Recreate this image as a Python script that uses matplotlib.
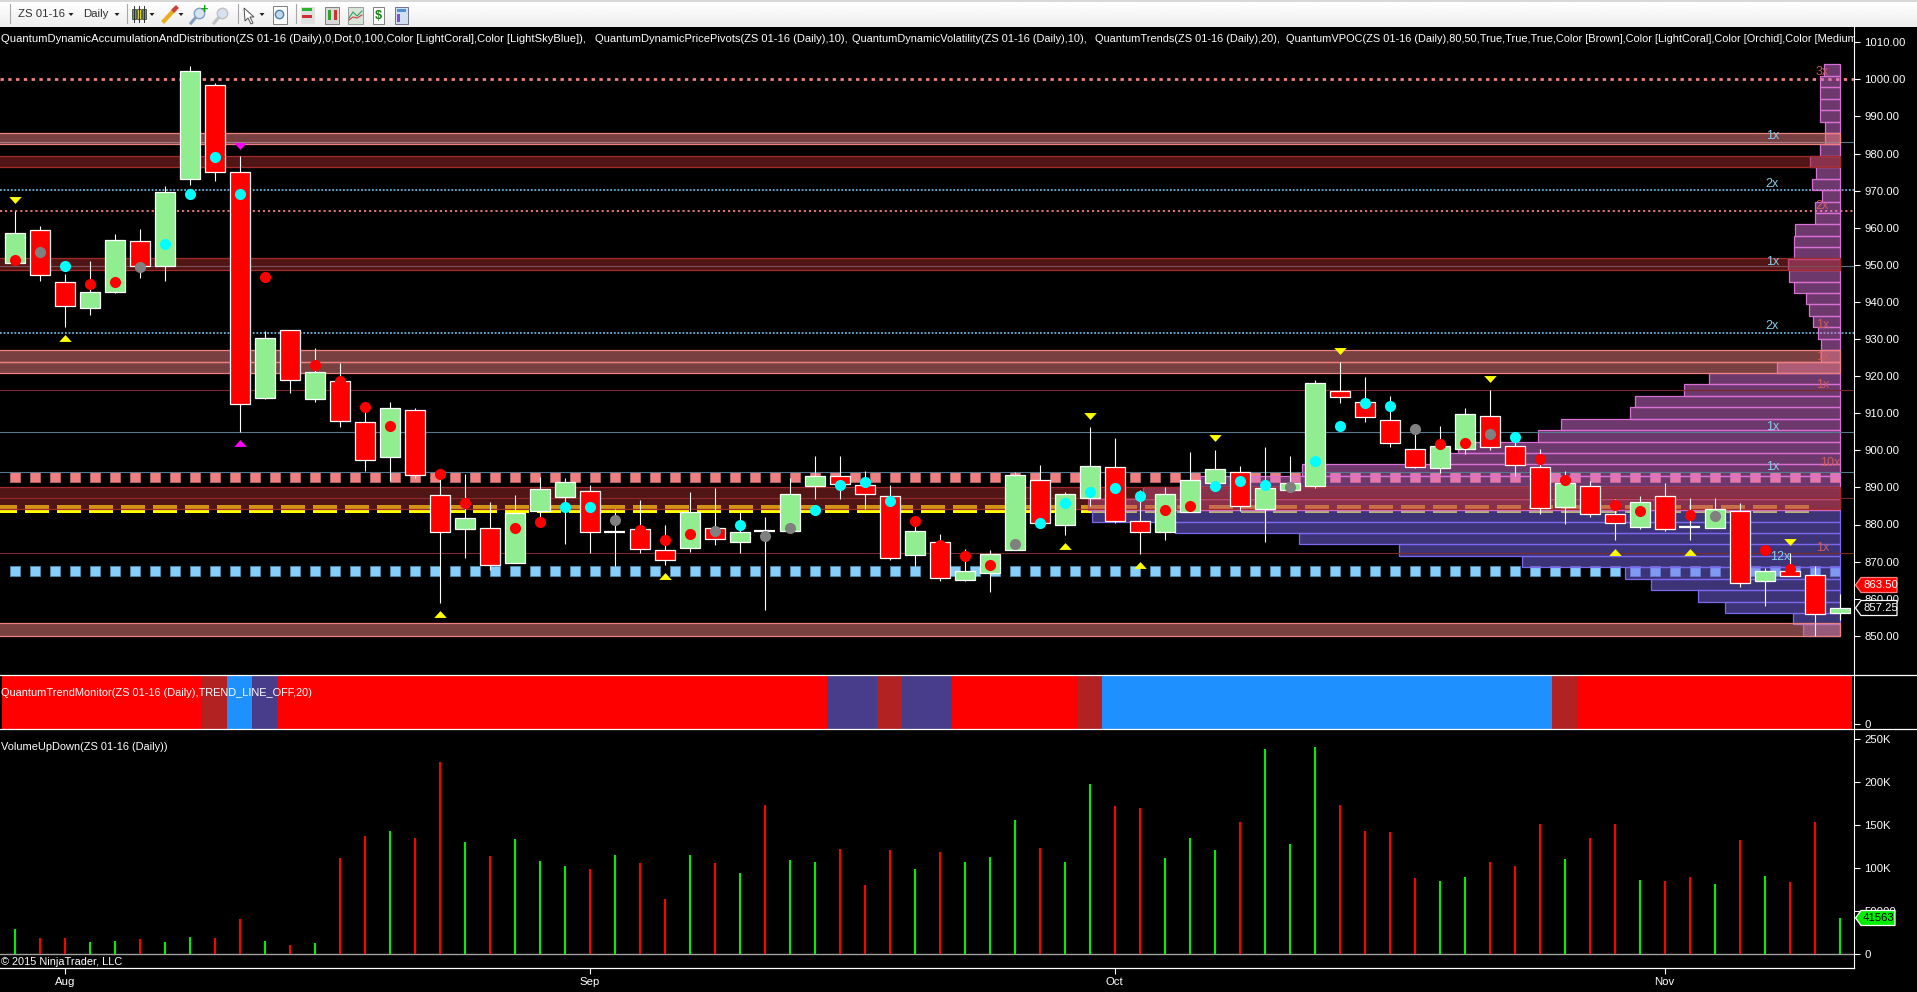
import numpy as np
import matplotlib
matplotlib.use('Agg')
import matplotlib.pyplot as plt
from matplotlib.patches import Rectangle, Polygon

plt.rcParams['font.family'] = ['Liberation Sans', 'DejaVu Sans']

W, H = 1917, 992

# candles, one entry per daily bar
opens = [950.4, 959.3, 945.3, 938.3, 942.8, 956.3, 949.8, 973.0, 998.4, 974.9,
         914.2, 932.3, 913.9, 918.6, 907.5, 898.3, 910.8, 887.9, 878.9, 879.0,
         869.7, 883.7, 887.5, 888.9, 878.1, 878.7, 873.0, 873.8, 879.0, 875.4,
         878.25, 878.3, 890.5, 893.0, 890.6, 887.6, 871.9, 875.2, 865.1, 866.8,
         873.0, 891.9, 880.0, 887.2, 895.4, 880.9, 877.9, 883.3, 891.1, 894.1,
         884.3, 889.4, 890.3, 915.9, 912.9, 908.1, 900.3, 895.3, 900.4, 909.2,
         901.1, 895.4, 884.8, 890.3, 882.8, 879.4, 887.6, 879.4, 879.1, 883.6,
         864.9, 867.6, 866.3, 856.2]
closes = [958.5, 947.2, 938.8, 942.6, 956.6, 949.8, 969.5, 1002.2, 975.0, 912.4,
          930.2, 919.0, 921.0, 908.0, 897.3, 911.3, 893.4, 877.9, 881.7, 869.0,
          883.0, 889.5, 891.4, 877.9, 878.1, 873.3, 870.3, 883.3, 876.2, 877.9,
          878.25, 888.1, 893.0, 891.0, 888.3, 871.1, 878.2, 865.7, 867.6, 872.0,
          893.3, 880.5, 888.1, 895.9, 881.0, 878.1, 888.1, 891.9, 894.9, 885.1,
          889.8, 891.3, 918.1, 914.5, 909.1, 902.1, 895.6, 901.1, 909.7, 901.0,
          896.1, 884.5, 891.1, 882.9, 880.3, 886.0, 878.9, 879.4, 884.1, 864.1,
          867.4, 866.2, 855.8, 857.4]
highs = [964.6, 960.5, 947.5, 951.0, 958.3, 959.6, 971.2, 1003.6, 998.9, 979.2,
         932.2, 932.4, 927.5, 923.5, 910.9, 913.0, 911.3, 893.8, 893.6, 886.0,
         888.0, 892.8, 892.5, 890.6, 884.1, 886.6, 879.9, 888.8, 889.8, 883.3,
         882.0, 892.4, 898.5, 898.5, 894.4, 890.6, 882.1, 877.4, 873.4, 873.1,
         894.1, 896.0, 888.7, 906.3, 903.3, 889.3, 890.1, 899.5, 900.1, 895.8,
         900.9, 898.5, 919.0, 923.8, 919.8, 914.6, 905.8, 906.6, 911.4, 916.3,
         902.8, 900.3, 894.4, 891.7, 886.9, 887.7, 891.2, 887.1, 887.1, 885.8,
         868.4, 872.2, 868.8, 861.4]
lows = [950.4, 945.5, 933.3, 936.6, 942.3, 946.5, 945.7, 971.6, 972.7, 904.8,
        913.9, 915.5, 913.1, 906.4, 894.5, 891.7, 892.5, 858.9, 871.1, 867.7,
        869.7, 881.2, 874.8, 872.4, 868.8, 872.2, 869.1, 872.7, 874.5, 872.4,
        857.0, 878.3, 886.9, 886.9, 884.2, 870.3, 868.8, 864.9, 864.9, 861.9,
        873.0, 880.5, 877.2, 885.0, 880.5, 872.1, 875.8, 883.3, 891.1, 883.7,
        875.3, 889.4, 889.9, 912.8, 907.6, 901.0, 895.2, 893.8, 899.0, 900.1,
        893.2, 882.7, 880.1, 882.1, 875.7, 878.9, 878.3, 875.7, 879.1, 863.2,
        858.0, 866.0, 850.0, 854.3]

# dots on the bars
red_dot_bars = [0, 3, 4, 10, 12, 13, 14, 15, 17, 18, 20, 21, 25, 26, 27, 36, 37, 38, 39,
                46, 47, 57, 58, 61, 62, 64, 65, 67, 70, 71]
red_dot_prices = [951.3, 944.8, 945.4, 946.8, 923.0, 918.8, 911.7, 906.6, 893.6, 885.8,
                  879.0, 880.7, 878.5, 875.8, 877.4, 881.0, 874.5, 871.5, 869.1,
                  883.9, 885.0, 901.7, 902.0, 897.6, 892.0, 885.3, 883.6, 882.6, 873.1, 868.1]
cyan_dot_bars = [2, 6, 7, 8, 9, 22, 23, 29, 32, 33, 34, 35, 41, 42, 43, 44, 45, 48, 49, 50,
                 52, 53, 54, 55, 60]
cyan_dot_prices = [949.7, 955.6, 969.1, 979.1, 969.1, 884.7, 884.7, 879.9, 883.9, 890.6,
                   891.5, 886.3, 880.4, 885.8, 888.8, 889.8, 887.7, 890.4, 891.7, 890.6,
                   897.1, 906.6, 912.8, 912.0, 903.6]
gray_dot_bars = [1, 5, 24, 28, 30, 31, 40, 51, 56, 59, 68]
gray_dot_prices = [953.5, 949.5, 881.2, 878.3, 876.9, 879.1, 874.8, 890.1, 905.7, 904.4, 882.3]

# triangles
yellow_down_bars = [0, 43, 48, 53, 59, 71]
yellow_down_prices = [967.6, 909.3, 903.2, 926.9, 919.3, 875.4]
yellow_up_bars = [2, 17, 26, 42, 45, 64, 67]
yellow_up_prices = [930.2, 855.8, 866.1, 874.1, 869.0, 872.5, 872.5]
magenta_down = (9, 982.1)
magenta_up = (9, 901.9)

# horizontal levels
coral_zone_tops = [985.4, 926.95, 923.7, 853.4]
coral_zone_bots = [982.5, 923.9, 920.9, 850.0]
brown_zone_tops = [979.2, 951.7, 890.0]
brown_zone_bots = [976.3, 948.5, 884.1]
brown_lines = [916.2, 887.1, 872.2]
slate_lines = [983.2, 949.6, 904.8, 894.1]
coral_dotted = [1000.0, 964.4]
blue_dotted = [970.1, 931.5]
coral_square_level = 892.7
blue_square_level = 867.4
vpoc_low, vpoc_high = 883.0, 885.2

# volume profile, 50 bins from 850 to 1004, length in bars * 61.5
profile_lengths = [92, 117, 284, 350, 466, 530, 783, 1087, 1332, 1638,
                   1840, 1851, 1715, 1575, 1325, 1010, 940, 744, 688, 518,
                   506, 385, 323, 156, 47, 47, 55, 67, 77, 84,
                   114, 127, 129, 114, 114, 111, 62, 62, 45, 70,
                   60, 75, 50, 37, 37, 50, 50, 50, 50, 40]
profile_blue_bins = 11

mult_x = [72.3, 70.3, 70.3, 72.3, 70.3, 70.3, 72.3, 72.3, 72.3, 70.3, 70.3, 72.6, 72.3, 70.6]
mult_y = [1002.1, 984.7, 971.8, 965.9, 950.8, 933.5, 933.8, 925.1, 917.6, 906.2, 895.4, 896.5, 873.6, 871.2]
mult_text = ['3x', '1x', '2x', '2x', '1x', '2x', '1x', '1x', '1x', '1x', '1x', '10x', '1x', '12x']
mult_kind = ['c', 's', 's', 'c', 's', 's', 'c', 'c', 'c', 's', 's', 'c', 'c', 's']

# trend monitor segments
trend_lengths = [8, 1, 1, 1, 22, 2, 1, 2, 5, 1, 18, 1, 11]
trend_colors = ['#FF0000', '#B22222', '#1E90FF', '#483D8B', '#FF0000', '#483D8B', '#B22222',
                '#483D8B', '#FF0000', '#B22222', '#1E90FF', '#B22222', '#FF0000']

# volume in thousands, u = up bar, d = down bar
volumes = [29.4, 19, 19, 14.3, 15.5, 17.8, 14.3, 20.1, 19, 41,
           15.5, 10.8, 13.2, 111.8, 137.4, 143.2, 135, 223.3, 130.4, 114.2,
           133.9, 108.4, 102.6, 99, 115.3, 106, 64.2, 115.3, 106, 94.4,
           173.4, 109.5, 107.2, 122.3, 80.5, 121.1, 99.1, 118.8, 107.2, 113,
           156, 123.5, 107.2, 197.8, 172.2, 169.9, 111.8, 135, 121.1, 153.6,
           238.4, 128.1, 240.7, 173.4, 143.2, 142, 88.6, 85.1, 89.8, 107.2,
           102.6, 151.3, 110.7, 135, 151.3, 86.3, 85.1, 89.8, 81.7, 132.7,
           90.9, 84, 153.6, 41.563]
vol_dir = 'u,d,d,u,u,d,u,u,d,d,u,d,u,d,d,u,d,d,u,d,u,u,u,d,u,d,d,u,d,u,d,u,u,d,d,d,u,d,u,u,u,d,u,u,d,d,u,u,u,d,u,u,u,d,d,d,d,u,u,d,d,d,u,d,d,u,d,d,u,d,u,d,d,u'.split(',')

month_bars = [2, 23, 44, 66]
month_labels = ['Aug', 'Sep', 'Oct', 'Nov']

header_x = [1, 595, 852, 1095, 1286]
header_sizes = [8.15, 8.0, 7.9, 7.9, 7.9]
header_parts = ['QuantumDynamicAccumulationAndDistribution(ZS 01-16 (Daily),0,Dot,0,100,Color [LightCoral],Color [LightSkyBlue]),',
                'QuantumDynamicPricePivots(ZS 01-16 (Daily),10),',
                'QuantumDynamicVolatility(ZS 01-16 (Daily),10),',
                'QuantumTrends(ZS 01-16 (Daily),20),',
                'QuantumVPOC(ZS 01-16 (Daily),80,50,True,True,True,Color [Brown],Color [LightCoral],Color [Orchid],Color [MediumSlateBlue])']

BAR_PX = 25.0
X0 = 14.7
RIGHT = 1854.4
xlim = ((0 - X0) / BAR_PX, (RIGHT - X0) / BAR_PX)
bars = np.arange(len(opens))


def px_axes(fig, left, top, right, bottom, **kw):
    return fig.add_axes([left / W, 1 - bottom / H, (right - left) / W, (bottom - top) / H], **kw)


def right_axis(ax):
    ax.set_facecolor('black')
    for s in ['top', 'left', 'bottom']:
        ax.spines[s].set_visible(False)
    ax.spines['right'].set_color('white')
    ax.spines['right'].set_linewidth(0.8)
    ax.yaxis.tick_right()
    ax.tick_params(axis='y', colors='white', length=4, width=0.8, labelsize=8.2, pad=3)
    ax.set_xlim(xlim)
    ax.set_xticks([])


fig = plt.figure(figsize=(W / 100, H / 100), dpi=100, facecolor='black')

# price pane
ax = px_axes(fig, 0, 27, RIGHT, 675)
right_axis(ax)
ax.set_ylim(1000 - (675 - 79.3) / 3.71, 1000 + (79.3 - 27) / 3.71)
ax.set_yticks(range(850, 1011, 10))
ax.set_yticklabels(['%.2f' % p for p in range(850, 1011, 10)])

prof_right = 73.03

# square dots and the yellow dashes sit under the profile
sq_x = np.arange(0.012, xlim[1], 0.8)
ax.plot(sq_x, [coral_square_level] * len(sq_x), ls='none', marker='s', ms=7.4, mfc='#F08080',
        mec='#B06060', mew=0.7, zorder=1)
ax.plot(sq_x, [blue_square_level] * len(sq_x), ls='none', marker='s', ms=7.4, mfc='#87CEFA',
        mec='#4F86A8', mew=0.7, zorder=1)
dash_x = np.arange(-0.888, prof_right - 0.96, 1.28)
ax.broken_barh([(d, 0.96) for d in dash_x], (vpoc_low, vpoc_high - vpoc_low),
               facecolors='#FFFF00', zorder=1)

for p in coral_dotted:
    ax.axhline(p, color='#F08080', lw=2.0 if p == 1000.0 else 1.3, ls=(0, (1.2, 1.6)), zorder=1)
for p in blue_dotted:
    ax.axhline(p, color='#6DB4DE', lw=1.3, ls=(0, (1, 1)), zorder=1)
for p in slate_lines:
    ax.axhline(p, color='#56788F', lw=0.8, zorder=3)
for p in brown_lines:
    ax.axhline(p, color='#7E2A2A', lw=0.8, zorder=3)

# volume profile
edges = np.linspace(850, 1004, len(profile_lengths) + 1)
lengths = np.array(profile_lengths) / 61.5
for k in range(len(lengths)):
    if k < profile_blue_bins:
        fc, ec = (123 / 255, 104 / 255, 238 / 255, 0.5), '#7B68EE'
    else:
        fc, ec = (218 / 255, 112 / 255, 214 / 255, 0.5), '#DA70D6'
    ax.add_patch(Rectangle((prof_right - lengths[k], edges[k]), lengths[k], edges[k + 1] - edges[k],
                           facecolor=fc, edgecolor=ec, lw=0.9, zorder=2))

# zones
zone_left = xlim[0] - 1
for t, b in zip(coral_zone_tops, coral_zone_bots):
    ax.add_patch(Rectangle((zone_left, b), prof_right - zone_left, t - b, facecolor=(240 / 255, 128 / 255, 128 / 255, 0.5),
                           edgecolor='#F08080', lw=0.9, zorder=3))
for t, b in zip(brown_zone_tops, brown_zone_bots):
    ax.add_patch(Rectangle((zone_left, b), prof_right - zone_left, t - b, facecolor=(165 / 255, 42 / 255, 42 / 255, 0.5),
                           edgecolor='#A52A2A', lw=0.9, zorder=3))

# candles
ax.vlines(bars, lows, highs, color='white', lw=0.8, zorder=4)
for i in bars:
    o, c = opens[i], closes[i]
    if o == c:
        ax.hlines(o, i - 0.41, i + 0.41, color='white', lw=1.6, zorder=5)
    else:
        ax.add_patch(Rectangle((i - 0.4, min(o, c)), 0.8, abs(c - o), facecolor='#90EE90' if c > o else '#FF0000',
                               edgecolor='white', lw=0.9, zorder=5))

# dots
for bx, py, col in [(red_dot_bars, red_dot_prices, '#FF0000'), (cyan_dot_bars, cyan_dot_prices, '#00FFFF'),
                    (gray_dot_bars, gray_dot_prices, '#808080')]:
    ax.plot(bx, py, ls='none', marker='o', ms=8, mfc=col, mec=col, mew=0, zorder=6)

# triangles
tri_down = [(-1, 0.55), (1, 0.55), (0, -0.55)]
tri_up = [(-1, -0.55), (1, -0.55), (0, 0.55)]
ax.plot(yellow_down_bars, yellow_down_prices, ls='none', marker=tri_down, ms=9, mfc='#FFFF00', mec='#FFFF00', mew=0, zorder=6)
ax.plot(yellow_up_bars, yellow_up_prices, ls='none', marker=tri_up, ms=9, mfc='#FFFF00', mec='#FFFF00', mew=0, zorder=6)
ax.plot([magenta_down[0]], [magenta_down[1]], ls='none', marker=tri_down, ms=9, mfc='#FF00FF', mew=0, zorder=6)
ax.plot([magenta_up[0]], [magenta_up[1]], ls='none', marker=tri_up, ms=9, mfc='#FF00FF', mew=0, zorder=6)

for mx, my, mt, mk in zip(mult_x, mult_y, mult_text, mult_kind):
    ax.text(mx, my, mt, color='#CD5C5C' if mk == 'c' else '#87CEEB', fontsize=9, ha='center', va='center', zorder=7)

# trend monitor pane
ax2 = px_axes(fig, 0, 675.7, RIGHT, 729)
right_axis(ax2)
ax2.set_ylim(-0.104, 1)
ax2.set_yticks([0])
ax2.set_yticklabels(['0'])
start = -0.5
for n, col in zip(trend_lengths, trend_colors):
    ax2.bar(start, 1.104, width=n, bottom=-0.104, align='edge', color=col, lw=0)
    start += n

# volume pane
ax3 = px_axes(fig, 0, 729.5, RIGHT, 968.3)
right_axis(ax3)
ax3.set_ylim(-16.26, 261)
ax3.set_yticks([0, 50, 100, 150, 200, 250])
ax3.set_yticklabels(['0', '50000', '100K', '150K', '200K', '250K'])
vol_cols = ['#00EE00' if d == 'u' else '#FF0000' for d in vol_dir]
ax3.vlines(bars, 0, volumes, colors=vol_cols, lw=1.5)
ax3.axhline(0, color='#A0A0A0', lw=1, zorder=0)
ax3.set_xticks(month_bars)
ax3.set_xticklabels(month_labels)
ax3.tick_params(axis='x', colors='white', length=4, width=0.8, labelsize=8.2, pad=2)

# overlay in pixel coordinates: toolbar, captions, frame lines, price tags
ov = fig.add_axes([0, 0, 1, 1], facecolor='none')
ov.set_xlim(0, W)
ov.set_ylim(H, 0)
ov.axis('off')

ov.imshow(np.linspace(1.0, 0.93, 24).reshape(-1, 1), cmap='gray', vmin=0, vmax=1, extent=(0, W, 27, 2), aspect='auto')
ov.add_patch(Rectangle((0, 0), W, 2, fc='#D8D8D8', lw=0))
ov.set_xlim(0, W)
ov.set_ylim(H, 0)
for sx in [10, 127, 237.5, 295.5]:
    ov.plot([sx, sx], [4, 23], color='#A8A8A8', lw=0.8)
ov.text(18, 14, 'ZS 01-16', color='#303030', fontsize=8.2, va='center')
ov.text(83, 14, 'Daily', color='#303030', fontsize=8.2, va='center')
for ax_ in [71, 117, 152, 181, 262]:
    ov.add_patch(Polygon([(ax_ - 2.5, 13), (ax_ + 2.5, 13), (ax_, 16)], fc='#202020', lw=0))
# toolbar icons
for cx, col in [(134, '#3CB43C'), (139, '#D8D020'), (144, '#3CB43C')]:
    ov.plot([cx, cx], [6, 22], color='#303030', lw=0.7)
    ov.add_patch(Rectangle((cx - 1.7, 9), 3.4, 10, fc=col, ec='#303030', lw=0.5))
ov.plot([164, 175], [21, 9], color='#E8B020', lw=3)
ov.plot([174, 176], [10, 8], color='#D04040', lw=3)
for cx, col in [(197, '#7FA0C0'), (220, '#C0C0C0')]:
    ov.plot([cx - 6, cx], [23, 16], color=col, lw=2.2)
    ov.plot([cx + 2], [13], marker='o', ms=7.5, mfc='#D5E3F0', mec=col, mew=1)
ov.text(204, 10, '+', color='#10A010', fontsize=9, fontweight='bold', ha='center', va='center')
ov.add_patch(Polygon([(244, 8), (254, 17), (250, 17), (253, 23), (251, 24), (248, 18), (245, 21)], fc='white', ec='#505050', lw=0.7))
ov.add_patch(Rectangle((273, 6), 14, 18, fc='white', ec='#808080', lw=0.7))
ov.plot([279], [14], marker='o', ms=6, mfc='#C0D8F0', mec='#5080B0', mew=1)
ov.add_patch(Rectangle((301, 7), 14, 17, fc='#E0E0E0', lw=0))
ov.add_patch(Rectangle((302, 8), 10, 3, fc='#30B030', lw=0))
ov.add_patch(Rectangle((302, 15), 10, 3, fc='#D03030', lw=0))
ov.add_patch(Rectangle((325, 7), 14, 17, fc='#D8D8D8', ec='#707070', lw=0.6))
for cx, col in [(329, '#30A030'), (335, '#D03030')]:
    ov.add_patch(Rectangle((cx - 1.5, 10), 3, 10, fc=col, lw=0))
ov.add_patch(Rectangle((348, 7), 15, 17, fc='#D8E4D8', ec='#909090', lw=0.6))
ov.plot([349, 353, 357, 362], [18, 12, 16, 11], color='#30A060', lw=0.8)
ov.plot([349, 353, 357, 362], [20, 17, 18, 15], color='#D04040', lw=0.8)
ov.add_patch(Rectangle((373, 7), 11, 17, fc='white', ec='#808080', lw=0.7))
ov.text(378.5, 16, '$', color='#108010', fontsize=9, fontweight='bold', ha='center', va='center')
ov.add_patch(Rectangle((395, 7), 13, 17, fc='#D0E0F0', ec='#707090', lw=0.7))
ov.add_patch(Rectangle((397, 9), 9, 3, fc='#5090D0', lw=0))
ov.add_patch(Rectangle((397, 14), 3, 8, fc='#8050D0', lw=0))

# captions, the last one is cut off at the axis line
clip_rect = Rectangle((0, 27), RIGHT, 30, transform=ov.transData)
for hx, part, hs in zip(header_x, header_parts, header_sizes):
    t = ov.text(hx, 39, part, color='white', fontsize=hs, va='center', ha='left')
    t.set_clip_on(True)
    t.set_clip_path(clip_rect)
ov.text(1, 693, 'QuantumTrendMonitor(ZS 01-16 (Daily),TREND_LINE_OFF,20)', color='white', fontsize=7.95, va='center')
ov.text(1, 747, 'VolumeUpDown(ZS 01-16 (Daily))', color='white', fontsize=7.95, va='center')
ov.text(1, 962, '© 2015 NinjaTrader, LLC', color='white', fontsize=7.95, va='center')

# frame lines
for fy, fx in [(675, W), (729, W), (968, RIGHT)]:
    ov.plot([0, fx], [fy, fy], color='white', lw=0.9)


# price tags
def tag(y, text, fc, ec, tc, x1):
    ov.add_patch(Polygon([(1855.5, y), (1861, y - 7.5), (x1, y - 7.5), (x1, y + 7.5), (1861, y + 7.5)],
                         fc=fc, ec=ec, lw=0.9))
    ov.text(1863, y, text, color=tc, fontsize=8.2, va='center')


tag(585, '863.50', '#FF0000', '#FF8080', 'white', 1897)
tag(608, '857.25', 'black', 'white', 'white', 1897)
tag(918, '41563', '#00EE00', 'white', 'black', 1895)

fig.savefig('out.png', dpi=100, facecolor='black')
